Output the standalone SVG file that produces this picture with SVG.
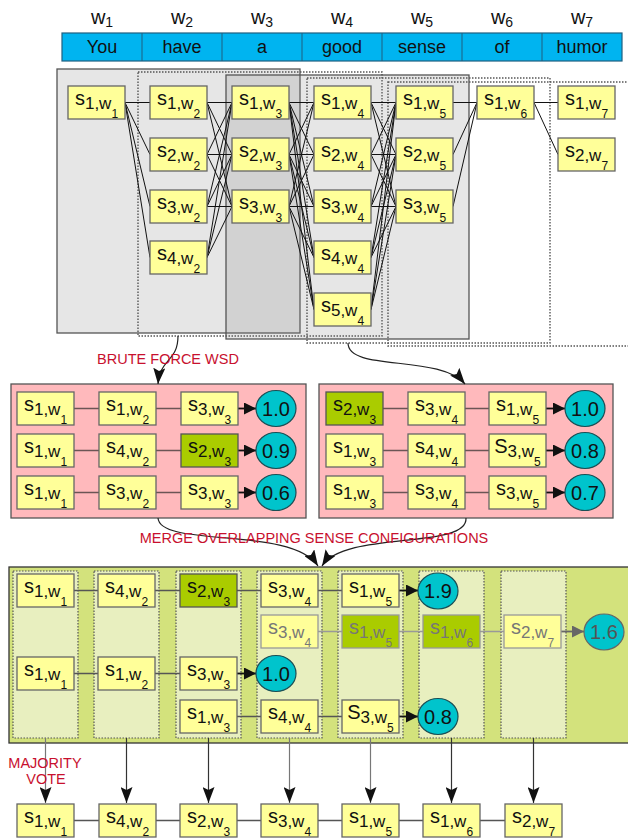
<svg xmlns="http://www.w3.org/2000/svg" width="628" height="838" viewBox="0 0 628 838">
<style>
text{font-family:"Liberation Sans",Arial,sans-serif;}
.bx{fill:#ffff99;stroke:#666;stroke-width:1.3;}
.gb{fill:#aacc00;stroke:#555;stroke-width:1.3;}
.fb{fill:#ffff99;stroke:#999;stroke-width:1.3;}
.fg{fill:#aacc00;stroke:#999;stroke-width:1.3;}
.lb{text-anchor:middle;fill:#111;}
.fl{text-anchor:middle;fill:#777;}
.a{font-size:20px;}
.b{font-size:17px;}
.c{font-size:12px;}
.cir{fill:#00c4cc;stroke:#1b4f55;stroke-width:1.2;}
.ct{font-size:20px;text-anchor:middle;fill:#111;}
.red{font-size:14.5px;fill:#c8102e;text-anchor:middle;}
.panel{fill:#808080;fill-opacity:0.2;stroke:#555;stroke-width:1.3;}
.dot{fill:none;stroke:#555;stroke-width:1.4;stroke-dasharray:1.5 1.5;}
.col{fill:#e8efbf;stroke:#555;stroke-width:1.2;stroke-dasharray:1.5 1.5;}
.lat{fill:none;stroke:#111;stroke-width:1;}
.ln{fill:none;stroke:#6b5555;stroke-width:1.3;}
.lm{fill:none;stroke:#555;stroke-width:1.3;}
.lf{fill:none;stroke:#999;stroke-width:1.3;}
.ar{fill:none;stroke:#111;stroke-width:1.8;marker-end:url(#ah);}
.arg{fill:none;stroke:#666;stroke-width:1.8;marker-end:url(#ahg);}
.cv{fill:none;stroke:#222;stroke-width:1.2;marker-end:url(#big);}
.vd{fill:none;stroke:#333;stroke-width:1.2;marker-end:url(#big);}
.vg{fill:none;stroke:#777;stroke-width:1.2;marker-end:url(#big);}
.wt{font-size:18px;text-anchor:middle;fill:#111;}
.wl{text-anchor:middle;fill:#111;}
</style>
<defs>
<marker id="ah" markerUnits="userSpaceOnUse" markerWidth="12" markerHeight="12" refX="12" refY="6" orient="auto"><path d="M0,0L12,6L0,12z" fill="#111"/></marker>
<marker id="ahg" markerUnits="userSpaceOnUse" markerWidth="12" markerHeight="12" refX="12" refY="6" orient="auto"><path d="M0,0L12,6L0,12z" fill="#666"/></marker>
<marker id="big" markerUnits="userSpaceOnUse" markerWidth="16" markerHeight="12" refX="16" refY="6" orient="auto"><path d="M0,0L16,6L0,12L3,6z" fill="#111"/></marker>
</defs>

<g id="words">
<rect x="62" y="33" width="560" height="28" fill="#00b4f0" stroke="#1f5f80" stroke-width="1.2"/>
<path d="M142,33V61M222,33V61M302,33V61M382,33V61M462,33V61M542,33V61" stroke="#1f5f80" stroke-width="1"/>
<text class="wt" x="102" y="53">You</text>
<text class="wt" x="182" y="53">have</text>
<text class="wt" x="262" y="53">a</text>
<text class="wt" x="342" y="53">good</text>
<text class="wt" x="422" y="53">sense</text>
<text class="wt" x="502" y="53">of</text>
<text class="wt" x="582" y="53">humor</text>
<text class="wl" x="102" y="24"><tspan font-size="20">w</tspan><tspan font-size="14" dy="3">1</tspan></text>
<text class="wl" x="182" y="24"><tspan font-size="20">w</tspan><tspan font-size="14" dy="3">2</tspan></text>
<text class="wl" x="262" y="24"><tspan font-size="20">w</tspan><tspan font-size="14" dy="3">3</tspan></text>
<text class="wl" x="342" y="24"><tspan font-size="20">w</tspan><tspan font-size="14" dy="3">4</tspan></text>
<text class="wl" x="422" y="24"><tspan font-size="20">w</tspan><tspan font-size="14" dy="3">5</tspan></text>
<text class="wl" x="502" y="24"><tspan font-size="20">w</tspan><tspan font-size="14" dy="3">6</tspan></text>
<text class="wl" x="582" y="24"><tspan font-size="20">w</tspan><tspan font-size="14" dy="3">7</tspan></text>
</g>

<g id="windows">
<rect class="panel" x="57" y="69" width="243" height="264"/>
<rect class="dot" x="138" y="72" width="244" height="264"/>
<rect class="panel" x="226" y="75" width="243" height="264"/>
<rect class="dot" x="307" y="78" width="243" height="265"/>
<rect class="dot" x="388" y="82" width="260" height="264"/>
</g>

<g id="containers">
<rect id="bf1" x="11" y="384" width="295" height="134" fill="#ffb9bc" stroke="#555" stroke-width="1.3"/>
<rect id="bf2" x="319" y="384" width="294" height="134" fill="#ffb9bc" stroke="#555" stroke-width="1.3"/>
<rect id="merge" x="9" y="567" width="630" height="176" fill="#d3e27c" stroke="#333" stroke-width="1.3"/>
<rect class="col" x="13" y="571" width="65" height="167"/>
<rect class="col" x="94" y="571" width="65" height="167"/>
<rect class="col" x="176" y="571" width="65" height="167"/>
<rect class="col" x="257" y="571" width="65" height="167"/>
<rect class="col" x="338" y="571" width="65" height="167"/>
<rect class="col" x="419" y="571" width="65" height="167"/>
<rect class="col" x="501" y="571" width="65" height="167"/>
</g>

<g id="connectors">
<path class="lat" d="M125,102.5L150,102.5M125,102.5L150,154.5M125,102.5L150,206.5M125,102.5L150,257.5
M207,102.5L232,102.5M207,102.5L232,154.5M207,102.5L232,206.5
M207,154.5L232,102.5M207,154.5L232,154.5M207,154.5L232,206.5
M207,206.5L232,102.5M207,206.5L232,154.5M207,206.5L232,206.5
M207,257.5L232,102.5M207,257.5L232,154.5M207,257.5L232,206.5
M289,102.5L314,102.5M289,102.5L314,154.5M289,102.5L314,206.5M289,102.5L314,257.5M289,102.5L314,309.5
M289,154.5L314,102.5M289,154.5L314,154.5M289,154.5L314,206.5M289,154.5L314,257.5M289,154.5L314,309.5
M289,206.5L314,102.5M289,206.5L314,154.5M289,206.5L314,206.5M289,206.5L314,257.5M289,206.5L314,309.5
M371,102.5L396,102.5M371,102.5L396,154.5M371,102.5L396,206.5
M371,154.5L396,102.5M371,154.5L396,154.5M371,154.5L396,206.5
M371,206.5L396,102.5M371,206.5L396,154.5M371,206.5L396,206.5
M371,257.5L396,102.5M371,257.5L396,154.5M371,257.5L396,206.5
M371,309.5L396,102.5M371,309.5L396,154.5M371,309.5L396,206.5
M453,102.5L477,102.5M453,154.5L477,102.5M453,206.5L477,102.5
M534,102.5L558,102.5M534,102.5L558,154.5"/>
<path class="cv" d="M178,336C178,362 160,358 158,384"/>
<path class="cv" d="M348,343C348,372 440,354 465,384"/>
<path class="ln" d="M74,408.5H99M156,408.5H181M74,450.5H99M156,450.5H181M74,492.5H99M156,492.5H181"/>
<path class="ln" d="M383,408.5H408M465,408.5H489M383,450.5H408M465,450.5H489M383,492.5H408M465,492.5H489"/>
<path class="ar" d="M238,408.5H256"/>
<path class="ar" d="M238,450.5H256"/>
<path class="ar" d="M238,492.5H256"/>
<path class="ar" d="M546,408.5H565"/>
<path class="ar" d="M546,450.5H565"/>
<path class="ar" d="M546,492.5H565"/>
<path class="cv" d="M158,518C160,548 292,526 318,566"/>
<path class="cv" d="M466,518C468,550 345,530 322,566"/>
<path class="lm" d="M74,590.5H98M155,590.5H180M237,590.5H261M318,590.5H342M74,673.5H98M155,673.5H180M237,716.5H261M318,716.5H342"/>
<path class="lf" d="M318,631.5H342M399,631.5H423M480,631.5H504"/>
<path class="ar" d="M399,590.5H418"/>
<path class="ar" d="M237,673.5H256"/>
<path class="ar" d="M399,716.5H418"/>
<path class="arg" d="M561,631.5H584"/>
<path class="vg" d="M45.5,738V803"/>
<path class="vd" d="M126.5,738V803"/>
<path class="vd" d="M208.5,738V803"/>
<path class="vg" d="M289.5,738V803"/>
<path class="vg" d="M370.5,738V803"/>
<path class="vd" d="M451.5,738V803"/>
<path class="vd" d="M533.5,738V803"/>
<path class="lm" d="M74,820.5H99M156,820.5H180M237,820.5H261M318,820.5H342M399,820.5H423M480,820.5H505" stroke="#333"/>
</g>

<g id="lattice">
<g id="l-s1w1"><rect class="bx" x="68" y="86" width="57" height="33"/><text class="lb" x="96.5" y="104.5"><tspan class="a">s</tspan><tspan class="b" dy="4">1,w</tspan><tspan class="c" dy="9">1</tspan></text></g>
<g id="l-s1w2"><rect class="bx" x="150" y="86" width="57" height="33"/><text class="lb" x="178.5" y="104.5"><tspan class="a">s</tspan><tspan class="b" dy="4">1,w</tspan><tspan class="c" dy="9">2</tspan></text></g>
<g id="l-s2w2"><rect class="bx" x="150" y="138" width="57" height="33"/><text class="lb" x="178.5" y="156.5"><tspan class="a">s</tspan><tspan class="b" dy="4">2,w</tspan><tspan class="c" dy="9">2</tspan></text></g>
<g id="l-s3w2"><rect class="bx" x="150" y="190" width="57" height="33"/><text class="lb" x="178.5" y="208.5"><tspan class="a">s</tspan><tspan class="b" dy="4">3,w</tspan><tspan class="c" dy="9">2</tspan></text></g>
<g id="l-s4w2"><rect class="bx" x="150" y="241" width="57" height="33"/><text class="lb" x="178.5" y="259.5"><tspan class="a">s</tspan><tspan class="b" dy="4">4,w</tspan><tspan class="c" dy="9">2</tspan></text></g>
<g id="l-s1w3"><rect class="bx" x="232" y="86" width="57" height="33"/><text class="lb" x="260.5" y="104.5"><tspan class="a">s</tspan><tspan class="b" dy="4">1,w</tspan><tspan class="c" dy="9">3</tspan></text></g>
<g id="l-s2w3"><rect class="bx" x="232" y="138" width="57" height="33"/><text class="lb" x="260.5" y="156.5"><tspan class="a">s</tspan><tspan class="b" dy="4">2,w</tspan><tspan class="c" dy="9">3</tspan></text></g>
<g id="l-s3w3"><rect class="bx" x="232" y="190" width="57" height="33"/><text class="lb" x="260.5" y="208.5"><tspan class="a">s</tspan><tspan class="b" dy="4">3,w</tspan><tspan class="c" dy="9">3</tspan></text></g>
<g id="l-s1w4"><rect class="bx" x="314" y="86" width="57" height="33"/><text class="lb" x="342.5" y="104.5"><tspan class="a">s</tspan><tspan class="b" dy="4">1,w</tspan><tspan class="c" dy="9">4</tspan></text></g>
<g id="l-s2w4"><rect class="bx" x="314" y="138" width="57" height="33"/><text class="lb" x="342.5" y="156.5"><tspan class="a">s</tspan><tspan class="b" dy="4">2,w</tspan><tspan class="c" dy="9">4</tspan></text></g>
<g id="l-s3w4"><rect class="bx" x="314" y="190" width="57" height="33"/><text class="lb" x="342.5" y="208.5"><tspan class="a">s</tspan><tspan class="b" dy="4">3,w</tspan><tspan class="c" dy="9">4</tspan></text></g>
<g id="l-s4w4"><rect class="bx" x="314" y="241" width="57" height="33"/><text class="lb" x="342.5" y="259.5"><tspan class="a">s</tspan><tspan class="b" dy="4">4,w</tspan><tspan class="c" dy="9">4</tspan></text></g>
<g id="l-s5w4"><rect class="bx" x="314" y="293" width="57" height="33"/><text class="lb" x="342.5" y="311.5"><tspan class="a">s</tspan><tspan class="b" dy="4">5,w</tspan><tspan class="c" dy="9">4</tspan></text></g>
<g id="l-s1w5"><rect class="bx" x="396" y="86" width="57" height="33"/><text class="lb" x="424.5" y="104.5"><tspan class="a">s</tspan><tspan class="b" dy="4">1,w</tspan><tspan class="c" dy="9">5</tspan></text></g>
<g id="l-s2w5"><rect class="bx" x="396" y="138" width="57" height="33"/><text class="lb" x="424.5" y="156.5"><tspan class="a">s</tspan><tspan class="b" dy="4">2,w</tspan><tspan class="c" dy="9">5</tspan></text></g>
<g id="l-s3w5"><rect class="bx" x="396" y="190" width="57" height="33"/><text class="lb" x="424.5" y="208.5"><tspan class="a">s</tspan><tspan class="b" dy="4">3,w</tspan><tspan class="c" dy="9">5</tspan></text></g>
<g id="l-s1w6"><rect class="bx" x="477" y="86" width="57" height="33"/><text class="lb" x="505.5" y="104.5"><tspan class="a">s</tspan><tspan class="b" dy="4">1,w</tspan><tspan class="c" dy="9">6</tspan></text></g>
<g id="l-s1w7"><rect class="bx" x="558" y="86" width="57" height="33"/><text class="lb" x="586.5" y="104.5"><tspan class="a">s</tspan><tspan class="b" dy="4">1,w</tspan><tspan class="c" dy="9">7</tspan></text></g>
<g id="l-s2w7"><rect class="bx" x="558" y="138" width="57" height="33"/><text class="lb" x="586.5" y="156.5"><tspan class="a">s</tspan><tspan class="b" dy="4">2,w</tspan><tspan class="c" dy="9">7</tspan></text></g>
</g>

<text class="red" x="168" y="364">BRUTE FORCE WSD</text>

<g id="bf1-nodes">
<g id="b1-r1c1"><rect class="bx" x="17" y="392" width="57" height="33"/><text class="lb" x="45.5" y="410.5"><tspan class="a">s</tspan><tspan class="b" dy="4">1,w</tspan><tspan class="c" dy="9">1</tspan></text></g>
<g id="b1-r1c2"><rect class="bx" x="99" y="392" width="57" height="33"/><text class="lb" x="127.5" y="410.5"><tspan class="a">s</tspan><tspan class="b" dy="4">1,w</tspan><tspan class="c" dy="9">2</tspan></text></g>
<g id="b1-r1c3"><rect class="bx" x="181" y="392" width="57" height="33"/><text class="lb" x="209.5" y="410.5"><tspan class="a">s</tspan><tspan class="b" dy="4">3,w</tspan><tspan class="c" dy="9">3</tspan></text></g>
<g id="b1-r1s"><ellipse class="cir" cx="276" cy="408.5" rx="20" ry="18"/><text class="ct" x="276" y="415.5">1.0</text></g>
<g id="b1-r2c1"><rect class="bx" x="17" y="434" width="57" height="33"/><text class="lb" x="45.5" y="452.5"><tspan class="a">s</tspan><tspan class="b" dy="4">1,w</tspan><tspan class="c" dy="9">1</tspan></text></g>
<g id="b1-r2c2"><rect class="bx" x="99" y="434" width="57" height="33"/><text class="lb" x="127.5" y="452.5"><tspan class="a">s</tspan><tspan class="b" dy="4">4,w</tspan><tspan class="c" dy="9">2</tspan></text></g>
<g id="b1-r2c3"><rect class="gb" x="181" y="434" width="57" height="33"/><text class="lb" x="209.5" y="452.5"><tspan class="a">s</tspan><tspan class="b" dy="4">2,w</tspan><tspan class="c" dy="9">3</tspan></text></g>
<g id="b1-r2s"><ellipse class="cir" cx="276" cy="450.5" rx="20" ry="18"/><text class="ct" x="276" y="457.5">0.9</text></g>
<g id="b1-r3c1"><rect class="bx" x="17" y="476" width="57" height="33"/><text class="lb" x="45.5" y="494.5"><tspan class="a">s</tspan><tspan class="b" dy="4">1,w</tspan><tspan class="c" dy="9">1</tspan></text></g>
<g id="b1-r3c2"><rect class="bx" x="99" y="476" width="57" height="33"/><text class="lb" x="127.5" y="494.5"><tspan class="a">s</tspan><tspan class="b" dy="4">3,w</tspan><tspan class="c" dy="9">2</tspan></text></g>
<g id="b1-r3c3"><rect class="bx" x="181" y="476" width="57" height="33"/><text class="lb" x="209.5" y="494.5"><tspan class="a">s</tspan><tspan class="b" dy="4">3,w</tspan><tspan class="c" dy="9">3</tspan></text></g>
<g id="b1-r3s"><ellipse class="cir" cx="276" cy="492.5" rx="20" ry="18"/><text class="ct" x="276" y="499.5">0.6</text></g>
</g>

<g id="bf2-nodes">
<g id="b2-r1c1"><rect class="gb" x="326" y="392" width="57" height="33"/><text class="lb" x="354.5" y="410.5"><tspan class="a">s</tspan><tspan class="b" dy="4">2,w</tspan><tspan class="c" dy="9">3</tspan></text></g>
<g id="b2-r1c2"><rect class="bx" x="408" y="392" width="57" height="33"/><text class="lb" x="436.5" y="410.5"><tspan class="a">s</tspan><tspan class="b" dy="4">3,w</tspan><tspan class="c" dy="9">4</tspan></text></g>
<g id="b2-r1c3"><rect class="bx" x="489" y="392" width="57" height="33"/><text class="lb" x="517.5" y="410.5"><tspan class="a">s</tspan><tspan class="b" dy="4">1,w</tspan><tspan class="c" dy="9">5</tspan></text></g>
<g id="b2-r1s"><ellipse class="cir" cx="585" cy="408.5" rx="20" ry="18"/><text class="ct" x="585" y="415.5">1.0</text></g>
<g id="b2-r2c1"><rect class="bx" x="326" y="434" width="57" height="33"/><text class="lb" x="354.5" y="452.5"><tspan class="a">s</tspan><tspan class="b" dy="4">1,w</tspan><tspan class="c" dy="9">3</tspan></text></g>
<g id="b2-r2c2"><rect class="bx" x="408" y="434" width="57" height="33"/><text class="lb" x="436.5" y="452.5"><tspan class="a">s</tspan><tspan class="b" dy="4">4,w</tspan><tspan class="c" dy="9">4</tspan></text></g>
<g id="b2-r2c3"><rect class="bx" x="489" y="434" width="57" height="33"/><text class="lb" x="517.5" y="452.5"><tspan class="a">S</tspan><tspan class="b" dy="4">3,w</tspan><tspan class="c" dy="9">5</tspan></text></g>
<g id="b2-r2s"><ellipse class="cir" cx="585" cy="450.5" rx="20" ry="18"/><text class="ct" x="585" y="457.5">0.8</text></g>
<g id="b2-r3c1"><rect class="bx" x="326" y="476" width="57" height="33"/><text class="lb" x="354.5" y="494.5"><tspan class="a">s</tspan><tspan class="b" dy="4">1,w</tspan><tspan class="c" dy="9">3</tspan></text></g>
<g id="b2-r3c2"><rect class="bx" x="408" y="476" width="57" height="33"/><text class="lb" x="436.5" y="494.5"><tspan class="a">s</tspan><tspan class="b" dy="4">3,w</tspan><tspan class="c" dy="9">4</tspan></text></g>
<g id="b2-r3c3"><rect class="bx" x="489" y="476" width="57" height="33"/><text class="lb" x="517.5" y="494.5"><tspan class="a">s</tspan><tspan class="b" dy="4">3,w</tspan><tspan class="c" dy="9">5</tspan></text></g>
<g id="b2-r3s"><ellipse class="cir" cx="585" cy="492.5" rx="20" ry="18"/><text class="ct" x="585" y="499.5">0.7</text></g>
</g>

<text class="red" x="314" y="543">MERGE OVERLAPPING SENSE CONFIGURATIONS</text>

<g id="merge-nodes">
<g id="m-r1c1"><rect class="bx" x="17" y="574" width="57" height="33"/><text class="lb" x="45.5" y="592.5"><tspan class="a">s</tspan><tspan class="b" dy="4">1,w</tspan><tspan class="c" dy="9">1</tspan></text></g>
<g id="m-r1c2"><rect class="bx" x="98" y="574" width="57" height="33"/><text class="lb" x="126.5" y="592.5"><tspan class="a">s</tspan><tspan class="b" dy="4">4,w</tspan><tspan class="c" dy="9">2</tspan></text></g>
<g id="m-r1c3"><rect class="gb" x="180" y="574" width="57" height="33"/><text class="lb" x="208.5" y="592.5"><tspan class="a">s</tspan><tspan class="b" dy="4">2,w</tspan><tspan class="c" dy="9">3</tspan></text></g>
<g id="m-r1c4"><rect class="bx" x="261" y="574" width="57" height="33"/><text class="lb" x="289.5" y="592.5"><tspan class="a">s</tspan><tspan class="b" dy="4">3,w</tspan><tspan class="c" dy="9">4</tspan></text></g>
<g id="m-r1c5"><rect class="bx" x="342" y="574" width="57" height="33"/><text class="lb" x="370.5" y="592.5"><tspan class="a">s</tspan><tspan class="b" dy="4">1,w</tspan><tspan class="c" dy="9">5</tspan></text></g>
<g id="m-r1s"><ellipse class="cir" cx="438" cy="591" rx="20" ry="18"/><text class="ct" x="438" y="598">1.9</text></g>
<g id="m-r2c4"><rect class="fb" x="261" y="615" width="57" height="33"/><text class="fl" x="289.5" y="633.5"><tspan class="a">s</tspan><tspan class="b" dy="4">3,w</tspan><tspan class="c" dy="9">4</tspan></text></g>
<g id="m-r2c5"><rect class="fg" x="342" y="615" width="57" height="33"/><text class="fl" x="370.5" y="633.5"><tspan class="a">s</tspan><tspan class="b" dy="4">1,w</tspan><tspan class="c" dy="9">5</tspan></text></g>
<g id="m-r2c6"><rect class="fg" x="423" y="615" width="57" height="33"/><text class="fl" x="451.5" y="633.5"><tspan class="a">s</tspan><tspan class="b" dy="4">1,w</tspan><tspan class="c" dy="9">6</tspan></text></g>
<g id="m-r2c7"><rect class="fb" x="504" y="615" width="57" height="33"/><text class="fl" x="532.5" y="633.5"><tspan class="a">s</tspan><tspan class="b" dy="4">2,w</tspan><tspan class="c" dy="9">7</tspan></text></g>
<g id="m-r2s"><ellipse cx="604" cy="632" rx="20" ry="18" fill="#00c4cc" stroke="#666" stroke-width="1.2"/><text class="ct" x="604" y="639" style="fill:#555">1.6</text></g>
<g id="m-r3c1"><rect class="bx" x="17" y="657" width="57" height="33"/><text class="lb" x="45.5" y="675.5"><tspan class="a">s</tspan><tspan class="b" dy="4">1,w</tspan><tspan class="c" dy="9">1</tspan></text></g>
<g id="m-r3c2"><rect class="bx" x="98" y="657" width="57" height="33"/><text class="lb" x="126.5" y="675.5"><tspan class="a">s</tspan><tspan class="b" dy="4">1,w</tspan><tspan class="c" dy="9">2</tspan></text></g>
<g id="m-r3c3"><rect class="bx" x="180" y="657" width="57" height="33"/><text class="lb" x="208.5" y="675.5"><tspan class="a">s</tspan><tspan class="b" dy="4">3,w</tspan><tspan class="c" dy="9">3</tspan></text></g>
<g id="m-r3s"><ellipse class="cir" cx="276" cy="673.5" rx="20" ry="18"/><text class="ct" x="276" y="680.5">1.0</text></g>
<g id="m-r4c3"><rect class="bx" x="180" y="700" width="57" height="33"/><text class="lb" x="208.5" y="718.5"><tspan class="a">s</tspan><tspan class="b" dy="4">1,w</tspan><tspan class="c" dy="9">3</tspan></text></g>
<g id="m-r4c4"><rect class="bx" x="261" y="700" width="57" height="33"/><text class="lb" x="289.5" y="718.5"><tspan class="a">s</tspan><tspan class="b" dy="4">4,w</tspan><tspan class="c" dy="9">4</tspan></text></g>
<g id="m-r4c5"><rect class="bx" x="342" y="700" width="57" height="33"/><text class="lb" x="370.5" y="718.5"><tspan class="a">S</tspan><tspan class="b" dy="4">3,w</tspan><tspan class="c" dy="9">5</tspan></text></g>
<g id="m-r4s"><ellipse class="cir" cx="438" cy="716.5" rx="20" ry="18"/><text class="ct" x="438" y="723.5">0.8</text></g>
</g>

<text class="red"><tspan x="45" y="768">MAJORITY</tspan><tspan x="46" y="784">VOTE</tspan></text>

<g id="result">
<g id="r-w1"><rect class="bx" x="17" y="804" width="57" height="33"/><text class="lb" x="45.5" y="822.5"><tspan class="a">s</tspan><tspan class="b" dy="4">1,w</tspan><tspan class="c" dy="9">1</tspan></text></g>
<g id="r-w2"><rect class="bx" x="99" y="804" width="57" height="33"/><text class="lb" x="127.5" y="822.5"><tspan class="a">s</tspan><tspan class="b" dy="4">4,w</tspan><tspan class="c" dy="9">2</tspan></text></g>
<g id="r-w3"><rect class="bx" x="180" y="804" width="57" height="33"/><text class="lb" x="208.5" y="822.5"><tspan class="a">s</tspan><tspan class="b" dy="4">2,w</tspan><tspan class="c" dy="9">3</tspan></text></g>
<g id="r-w4"><rect class="bx" x="261" y="804" width="57" height="33"/><text class="lb" x="289.5" y="822.5"><tspan class="a">s</tspan><tspan class="b" dy="4">3,w</tspan><tspan class="c" dy="9">4</tspan></text></g>
<g id="r-w5"><rect class="bx" x="342" y="804" width="57" height="33"/><text class="lb" x="370.5" y="822.5"><tspan class="a">s</tspan><tspan class="b" dy="4">1,w</tspan><tspan class="c" dy="9">5</tspan></text></g>
<g id="r-w6"><rect class="bx" x="423" y="804" width="57" height="33"/><text class="lb" x="451.5" y="822.5"><tspan class="a">s</tspan><tspan class="b" dy="4">1,w</tspan><tspan class="c" dy="9">6</tspan></text></g>
<g id="r-w7"><rect class="bx" x="505" y="804" width="57" height="33"/><text class="lb" x="533.5" y="822.5"><tspan class="a">s</tspan><tspan class="b" dy="4">2,w</tspan><tspan class="c" dy="9">7</tspan></text></g>
</g>
</svg>
